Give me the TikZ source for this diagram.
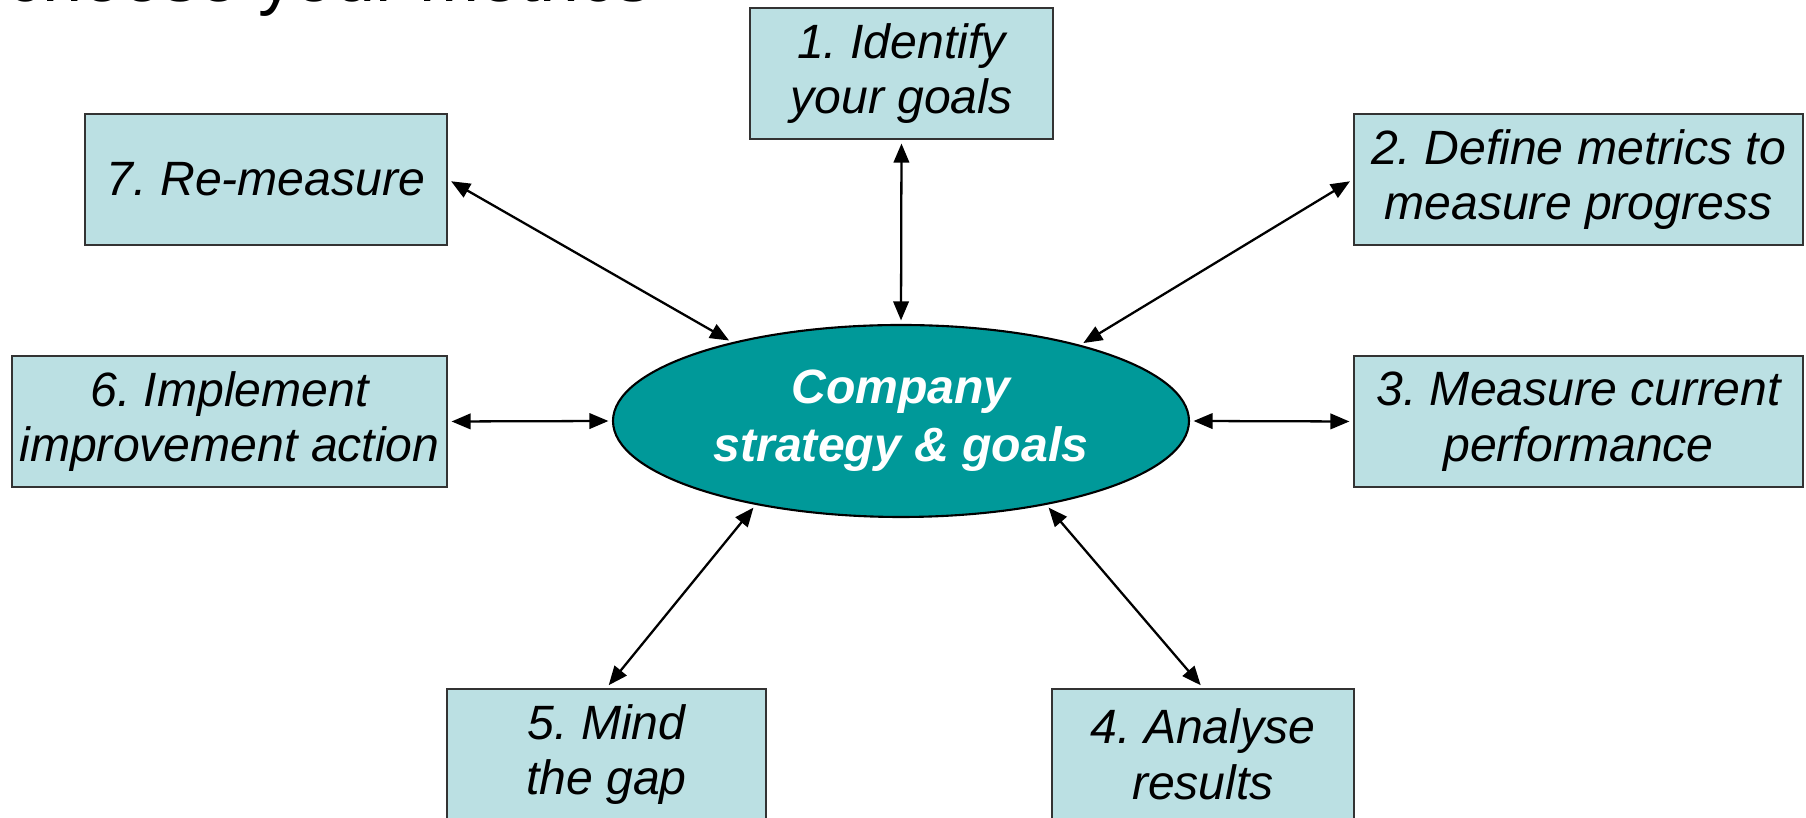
\documentclass[tikz,border=0pt]{standalone}
\usepackage{fontspec}
\setmainfont{Liberation Sans}
\usetikzlibrary{shapes.geometric, arrows.meta}
\frenchspacing

\definecolor{stepfill}{RGB}{187,224,227}
\definecolor{goalfill}{RGB}{0,153,153}

\begin{document}
\begin{tikzpicture}[
    >={Triangle[length=5.4pt, width=4.4pt]},
    % --- Step boxes around the centre ---
    stepbox/.style={draw=black!80, line width=0.6pt, fill=stepfill,
        minimum width=#1, minimum height=1.31cm, inner sep=0pt,
        align=center, font=\fontsize{13.7}{15.8}\selectfont\itshape},
    stepbox/.default=3.6cm,
    % --- Central ellipse ---
    goal/.style={ellipse, draw=black, line width=0.6pt, fill=goalfill,
        minimum width=5.76cm, minimum height=1.92cm, inner sep=0pt,
        align=center, text=white,
        font=\fontsize{13.7}{16.5}\selectfont\bfseries\itshape},
    % --- Two-way links ---
    link/.style={<->, line width=0.65pt, shorten >=1pt, shorten <=1pt},
]

\useasboundingbox (0,0) rectangle (18.06,-8.18);

% =============================================
%  Slide title (runs off the top edge)
% =============================================
\node[anchor=base west, inner sep=0pt, font=\fontsize{20.5}{24}\selectfont]
    (title) at (0.06,-0.02) {choose your metrics};

% =============================================
%  Centre
% =============================================
\node[goal] (goal) at (9.01,-4.21) {Company\\strategy \& goals};

% =============================================
%  Steps, clockwise from the top
% =============================================
\node[stepbox=3.03cm] (s1) at (9.015,-0.735) {1. Identify\\your goals};
\node[stepbox=4.49cm] (s2) at (15.785,-1.795) {2. Define metrics to\\measure progress};
\node[stepbox=4.49cm] (s3) at (15.785,-4.215) {3. Measure current\\performance};
\node[stepbox=3.02cm] (s4) at (12.03,-7.545) {4. Analyse\\results};
\node[stepbox=3.19cm] (s5) at (6.065,-7.545) {5. Mind\\the gap};
\node[stepbox=4.35cm] (s6) at (2.295,-4.215) {6. Implement\\improvement action};
\node[stepbox=3.62cm] (s7) at (2.66,-1.795) {7. Re-measure};

% =============================================
%  Connections
% =============================================
\draw[link] (s1.south) -- (goal.north);
\draw[link] (s2.west) -- (goal.23);
\draw[link] (s3.west) -- (goal.east);
\draw[link] (s4.north) -- (goal.330);
\draw[link] (s5.north) -- (goal.210);
\draw[link] (s6.east) -- (goal.west);
\draw[link] (s7.east) -- (goal.155);

\end{tikzpicture}
\end{document}
